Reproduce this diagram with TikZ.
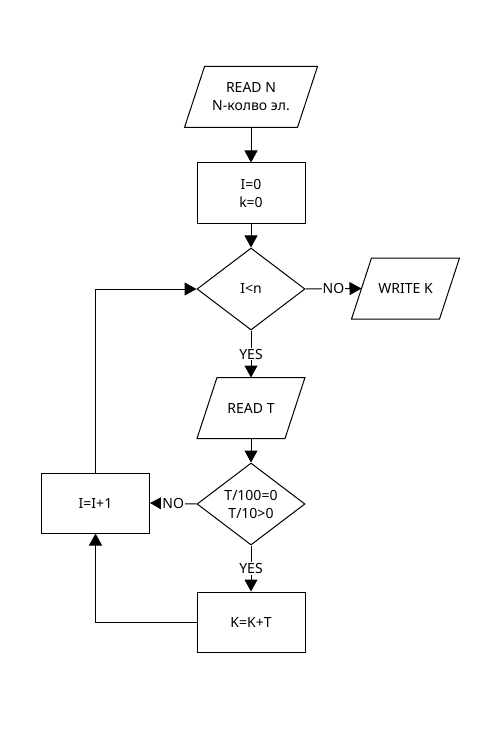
\documentclass[tikz,border=0pt]{standalone}
\usepackage{fontspec}
\setmainfont{Noto Sans}
\usetikzlibrary{arrows.meta, shapes.geometric}

\tikzset{
  io/.style={rectangle, minimum width=87pt, minimum height=60pt, inner sep=0pt, align=center,
    append after command={\pgfextra{\draw ([xshift=10pt]\tikzlastnode.north west)
      -- ([xshift=10pt]\tikzlastnode.north east) -- ([xshift=-10pt]\tikzlastnode.south east)
      -- ([xshift=-10pt]\tikzlastnode.south west) -- cycle;}}},
  proc/.style={draw, rectangle, minimum width=108pt, minimum height=60pt, inner sep=0pt, align=center},
  test/.style={draw, diamond, minimum width=108pt, minimum height=82pt, inner sep=0pt, align=center},
  flow/.style={-{Triangle[length=12pt, width=13pt]}},
  tag/.style={fill=white, inner sep=1pt}
}

\begin{document}
\begin{tikzpicture}[x=1pt, y=-1pt, line width=1pt,
    every node/.style={font=\fontsize{14}{18}\selectfont}]
  \useasboundingbox (0,0) rectangle (500,730);

  % Draw the blocks
  \node[io, minimum width=112pt] (readN) at (251, 97) {READ N\\N-колво эл.};
  \node[proc] (initIK) at (251, 193) {I=0\\k=0};
  \node[test] (testI) at (251, 289) {I<n};
  \node[io] (writeK) at (405.5, 288.5) {WRITE K};
  \node[io] (readT) at (251, 408) {READ T};
  \node[test] (testT) at (251, 504) {T/100=0\\T/10>0};
  \node[proc] (incI) at (95.5, 503) {I=I+1};
  \node[proc] (addK) at (251, 622) {K=K+T};

  % Draw the connectors
  \draw[flow] (readN) -- (initIK);
  \draw[flow] (initIK) -- (testI);
  \draw[flow] (testI.east) -- (writeK.west) node[midway, tag] {NO};
  \draw[flow] (testI) -- (readT) node[midway, tag] {YES};
  \draw[flow] (readT) -- (testT);
  \draw[flow] (testT.west) -- (incI.east) node[midway, tag] {NO};
  \draw[flow] (testT) -- (addK) node[midway, tag] {YES};

  % Draw the loop back
  \draw[flow] (addK.west) -| (incI.south);
  \draw[flow] (incI.north) |- (testI.west);

\end{tikzpicture}
\end{document}
